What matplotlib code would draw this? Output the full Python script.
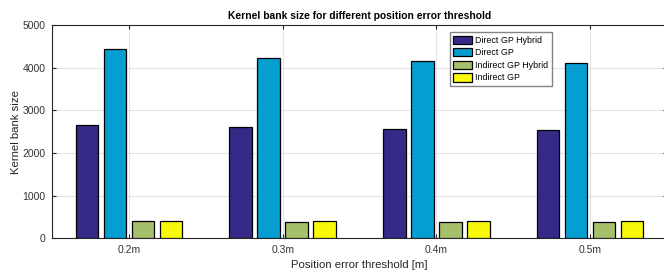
import numpy as np
import matplotlib
matplotlib.use('Agg')
import matplotlib.pyplot as plt

plt.rcParams['font.family'] = ['Liberation Sans', 'DejaVu Sans']

thresholds = ['0.2m', '0.3m', '0.4m', '0.5m']
series_names = ['Direct GP Hybrid', 'Direct GP', 'Indirect GP Hybrid', 'Indirect GP']
direct_gp_hybrid = [2650, 2605, 2565, 2535]
direct_gp = [4430, 4220, 4150, 4120]
indirect_gp_hybrid = [395, 390, 385, 385]
indirect_gp = [415, 410, 405, 395]
colors = ['#352a87', '#069dd0', '#a5bf6b', '#f8f80c']

all_series = [direct_gp_hybrid, direct_gp, indirect_gp_hybrid, indirect_gp]

fig = plt.figure(figsize=(6.64, 2.70), dpi=100)
ax = fig.add_axes([52 / 664, 1 - 238.3 / 270, (667 - 52) / 664, (238.3 - 25) / 270])

x = np.arange(1, len(thresholds) + 1)
step = 0.182
width = 0.146
for i, (vals, name, c) in enumerate(zip(all_series, series_names, colors)):
    ax.bar(x + (i - 1.5) * step, vals, width, color=c, edgecolor='black',
           linewidth=0.9, label=name, zorder=3)

ax.set_xlim(0.5, 4.5)
ax.set_ylim(0, 5000)
ax.set_xticks(x)
ax.set_xticklabels(thresholds)
ax.set_yticks([0, 1000, 2000, 3000, 4000, 5000])
ax.tick_params(direction='in', top=True, right=True, length=3, width=0.8,
               labelsize=7.5, colors='#262626', labelcolor='#333333', pad=4.5)
ax.grid(True, color='#e3e3e3', linewidth=0.8, zorder=0)
for s in ax.spines.values():
    s.set_color('#262626')
    s.set_linewidth(0.8)

ax.set_title('Kernel bank size for different position error threshold',
             fontsize=7.4, fontweight='bold', pad=4)
ax.set_xlabel('Position error threshold [m]', fontsize=8.2, color='#262626', labelpad=4)
ax.set_ylabel('Kernel bank size', fontsize=8.2, color='#262626', labelpad=1)

leg = ax.legend(loc='upper left', bbox_to_anchor=((449.5 - 52) / 615, 1 - (32.3 - 25) / 213.3),
                fontsize=6.4, frameon=True, fancybox=False, borderaxespad=0,
                handlelength=2.2, handleheight=1.05, handletextpad=0.3,
                labelspacing=0.38, borderpad=0.38)
leg.get_frame().set_edgecolor('#666666')
leg.get_frame().set_linewidth(1.0)

fig.savefig('out.png', dpi=100)
